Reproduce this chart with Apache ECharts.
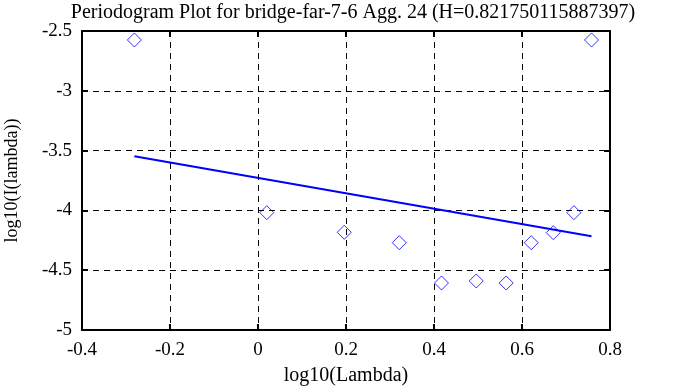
<!DOCTYPE html>
<html>
<head>
<meta charset="utf-8">
<script src="https://cdn.jsdelivr.net/npm/echarts@6/dist/echarts.min.js"></script>
<style>html,body{margin:0;padding:0;background:#fff;}#c{width:678px;height:387px;}</style>
</head>
<body>
<div id="c"></div>
<script>
var titleText = 'Periodogram Plot for bridge-far-7-6 Agg. 24 (H=0.821750115887397)';
var xName = 'log10(Lambda)';
var yName = 'log10(I(lambda))';
var pointX = [-0.281, 0.758, 0.020, 0.196, 0.321, 0.417, 0.496, 0.564, 0.621, 0.671, 0.718];
var pointY = [-2.575, -2.575, -4.019, -4.183, -4.270, -4.607, -4.590, -4.607, -4.270, -4.186, -4.019];
var fitX = [-0.281, 0.758];
var fitY = [-3.548, -4.217];

var FONT = 'Liberation Serif';
var chart = echarts.init(document.getElementById('c'), null, {renderer: 'canvas'});
function zip(a, b) { return a.map(function (v, i) { return [v, b[i]]; }); }
function fmt(v) { return String(+v.toFixed(2)); }
var axisLine = {show: true, onZero: false, lineStyle: {color: '#000', width: 2}};
var tick = {show: true, inside: true, length: 6, lineStyle: {color: '#000', width: 2}};
var split = {show: true, lineStyle: {color: '#000', width: 1, type: [6, 5]}};
var labelStyle = {color: '#000', fontFamily: FONT, fontSize: 19};
chart.setOption({
  animation: false,
  backgroundColor: '#fff',
  title: {
    text: titleText, left: 348, top: -2, textAlign: 'center',
    textStyle: {color: '#000', fontFamily: FONT, fontSize: 20, fontWeight: 'normal'}
  },
  grid: {left: 82, right: 68, top: 31, bottom: 57, containLabel: false, outerBoundsMode: 'none'},
  xAxis: [{
    type: 'value', min: -0.4, max: 0.8, interval: 0.2, position: 'bottom',
    name: xName, nameLocation: 'middle', nameGap: 36,
    nameTextStyle: {color: '#000', fontFamily: FONT, fontSize: 20},
    axisLine: axisLine, axisTick: tick, splitLine: split,
    axisLabel: Object.assign({formatter: fmt, margin: 11}, labelStyle)
  }, {
    type: 'value', min: -0.4, max: 0.8, interval: 0.2, position: 'top',
    axisLine: axisLine, axisTick: tick, splitLine: {show: false}, axisLabel: {show: false}
  }],
  yAxis: [{
    type: 'value', min: -5, max: -2.5, interval: 0.5, position: 'left',
    name: yName, nameLocation: 'middle', nameGap: 61, nameRotate: 90,
    nameTextStyle: {color: '#000', fontFamily: FONT, fontSize: 18},
    axisLine: axisLine, axisTick: tick, splitLine: split,
    axisLabel: Object.assign({formatter: fmt, margin: 10}, labelStyle)
  }, {
    type: 'value', min: -5, max: -2.5, interval: 0.5, position: 'right',
    axisLine: axisLine, axisTick: tick, splitLine: {show: false}, axisLabel: {show: false}
  }],
  series: [{
    type: 'line', data: zip(fitX, fitY), symbol: 'none',
    lineStyle: {color: '#0000ff', width: 2}, z: 3
  }, {
    type: 'scatter', data: zip(pointX, pointY), symbol: 'diamond', symbolSize: 14,
    itemStyle: {color: 'transparent', borderColor: '#0000ff', borderWidth: 1}, z: 4
  }]
});
</script>
</body>
</html>
